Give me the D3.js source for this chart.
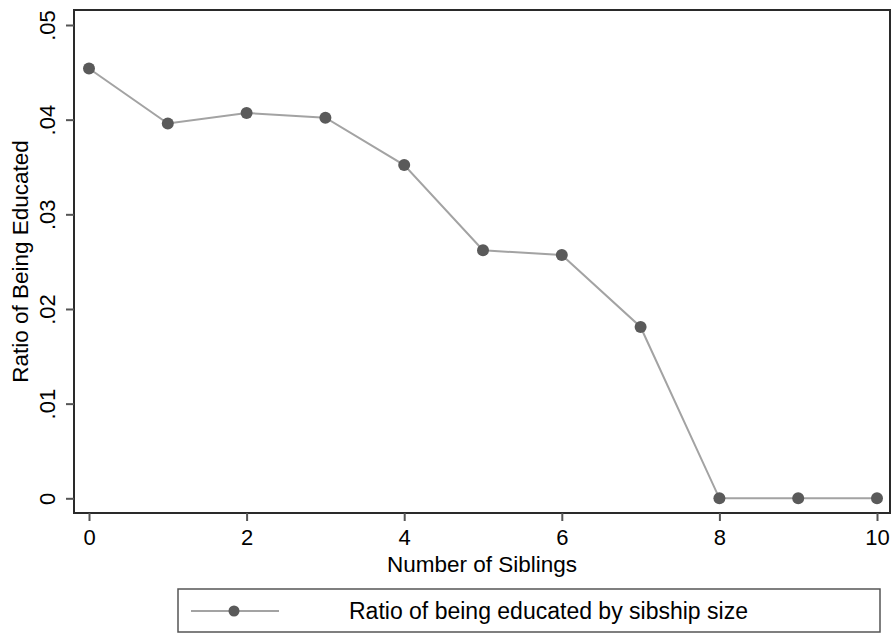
<!DOCTYPE html>
<html>
<head>
<meta charset="utf-8">
<script src="https://cdn.jsdelivr.net/npm/d3@7"></script>
<style>
  html, body { margin: 0; padding: 0; background: #fff; }
  svg { display: block; }
  text { font-family: "Liberation Sans", Arial, Helvetica, sans-serif; fill: #000; }
</style>
</head>
<body>
<svg id="chart" width="895" height="634"></svg>
<script>
// ---- data ----
const siblings = [0, 1, 2, 3, 4, 5, 6, 7, 8, 9, 10];
const ratioEducated = [0.0454, 0.0396, 0.0407, 0.0402, 0.0352, 0.0262, 0.0257, 0.0181, 0, 0, 0];
const xTickValues = [0, 2, 4, 6, 8, 10];
const yTickValues = [0, 0.01, 0.02, 0.03, 0.04, 0.05];
const yTickLabels = ["0", ".01", ".02", ".03", ".04", ".05"];
const xTitle = "Number of Siblings";
const yTitle = "Ratio of Being Educated";
const legendLabel = "Ratio of being educated by sibship size";

// ---- layout ----
const svg = d3.select("#chart");
const frame = { left: 74, top: 10, right: 890, bottom: 513 };
const x = d3.scaleLinear().domain([0, 10]).range([89, 877]);
const y = d3.scaleLinear().domain([0, 0.05]).range([498.3, 25]);

const lineColor = "#a3a3a3";
const markerColor = "#5a5a5a";

// frame
svg.append("rect")
  .attr("x", frame.left).attr("y", frame.top)
  .attr("width", frame.right - frame.left).attr("height", frame.bottom - frame.top)
  .attr("fill", "none").attr("stroke", "#2a2a2a").attr("stroke-width", 2);

// y axis
const yAxis = d3.axisLeft(y).tickValues(yTickValues)
  .tickFormat((d, i) => yTickLabels[i]).tickSize(8);
const gy = svg.append("g").attr("transform", `translate(${frame.left},0)`).call(yAxis);
gy.select(".domain").remove();
gy.selectAll(".tick line").attr("stroke", "#555").attr("stroke-width", 2);
gy.selectAll(".tick text")
  .attr("transform", "rotate(-90)")
  .attr("x", 0).attr("y", -19).attr("dy", 0)
  .attr("text-anchor", "middle")
  .style("font-size", "22px").attr("fill", "#000");

// x axis
const xAxis = d3.axisBottom(x).tickValues(xTickValues).tickFormat(d3.format("d")).tickSize(8);
const gx = svg.append("g").attr("transform", `translate(0,${frame.bottom})`).call(xAxis);
gx.select(".domain").remove();
gx.selectAll(".tick line").attr("stroke", "#555").attr("stroke-width", 2);
gx.selectAll(".tick text")
  .attr("y", 32).attr("dy", 0)
  .style("font-size", "22px").attr("fill", "#000");

// titles
svg.append("text")
  .attr("x", (frame.left + frame.right) / 2).attr("y", 572)
  .attr("text-anchor", "middle").style("font-size", "22.5px")
  .text(xTitle);
svg.append("text")
  .attr("transform", `translate(28,${(frame.top + frame.bottom) / 2}) rotate(-90)`)
  .attr("text-anchor", "middle").style("font-size", "22.5px")
  .text(yTitle);

// series
const data = siblings.map((s, i) => ({ s, v: ratioEducated[i] }));
const line = d3.line().x(d => x(d.s)).y(d => y(d.v));
svg.append("path").datum(data)
  .attr("d", line).attr("fill", "none")
  .attr("stroke", lineColor).attr("stroke-width", 2);
svg.selectAll("circle.pt").data(data).enter().append("circle")
  .attr("class", "pt")
  .attr("cx", d => x(d.s)).attr("cy", d => y(d.v)).attr("r", 6)
  .attr("fill", markerColor);

// legend
const lg = svg.append("g");
lg.append("rect")
  .attr("x", 178).attr("y", 589).attr("width", 702).attr("height", 43)
  .attr("fill", "#fff").attr("stroke", "#555").attr("stroke-width", 1.5);
lg.append("line")
  .attr("x1", 191).attr("x2", 279).attr("y1", 611).attr("y2", 611)
  .attr("stroke", lineColor).attr("stroke-width", 2);
lg.append("circle").attr("cx", 234).attr("cy", 611).attr("r", 5.5).attr("fill", markerColor);
lg.append("text")
  .attr("x", 349).attr("y", 619)
  .style("font-size", "23px")
  .text(legendLabel);
</script>
</body>
</html>
